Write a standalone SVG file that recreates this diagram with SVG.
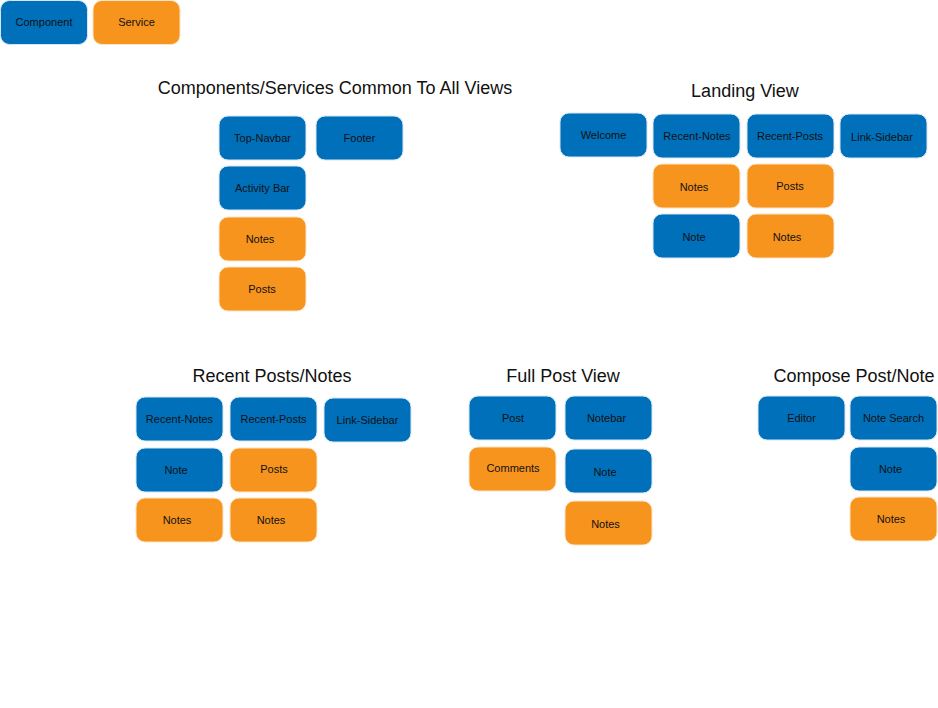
<svg xmlns="http://www.w3.org/2000/svg" width="938" height="708" viewBox="0 0 938 708">
<style>
.c{fill:#0070bb;stroke:#d7e6f3;stroke-width:1}
.s{fill:#f7941e;stroke:#fde3c4;stroke-width:1}
.l{font-family:"Liberation Sans",Arial,sans-serif;font-size:11px;fill:#111;text-anchor:middle}
.t{font-family:"Liberation Sans",Arial,sans-serif;font-size:18px;fill:#111;text-anchor:middle}
</style>
<rect width="938" height="708" fill="#fff"/>
<g id="legend">
<g id="legend-component"><rect class="c" x="0.5" y="0.5" width="87" height="44" rx="9"/><text class="l" x="44" y="26">Component</text></g>
<g id="legend-service"><rect class="s" x="93" y="0.5" width="87" height="44" rx="9"/><text class="l" x="136.5" y="26">Service</text></g>
</g>
<g id="titles">
<text class="t" x="335" y="94">Components/Services Common To All Views</text>
<text class="t" x="745" y="97">Landing View</text>
<text class="t" x="272" y="382">Recent Posts/Notes</text>
<text class="t" x="563" y="382">Full Post View</text>
<text class="t" x="854" y="382">Compose Post/Note</text>
</g>
<g id="common">
<g id="common-topnavbar"><rect class="c" x="219" y="116" width="87" height="44" rx="9"/><text class="l" x="262.5" y="142">Top-Navbar</text></g>
<g id="common-footer"><rect class="c" x="316" y="116" width="87" height="44" rx="9"/><text class="l" x="359.5" y="142">Footer</text></g>
<g id="common-activitybar"><rect class="c" x="219" y="166" width="87" height="44" rx="9"/><text class="l" x="262.5" y="192">Activity Bar</text></g>
<g id="common-notes"><rect class="s" x="219" y="217" width="87" height="44" rx="9"/><text class="l" x="260" y="243">Notes</text></g>
<g id="common-posts"><rect class="s" x="219" y="267" width="87" height="44" rx="9"/><text class="l" x="262" y="293">Posts</text></g>
</g>
<g id="landing">
<g id="landing-welcome"><rect class="c" x="560" y="113" width="87" height="44" rx="9"/><text class="l" x="603.5" y="139">Welcome</text></g>
<g id="landing-recentnotes"><rect class="c" x="653" y="114" width="87" height="44" rx="9"/><text class="l" x="697" y="140">Recent-Notes</text></g>
<g id="landing-recentposts"><rect class="c" x="747" y="114" width="87" height="44" rx="9"/><text class="l" x="790" y="140">Recent-Posts</text></g>
<g id="landing-linksidebar"><rect class="c" x="840" y="114" width="87" height="44" rx="9"/><text class="l" x="882" y="141">Link-Sidebar</text></g>
<g id="landing-notes"><rect class="s" x="653" y="164" width="87" height="44" rx="9"/><text class="l" x="694" y="191">Notes</text></g>
<g id="landing-posts"><rect class="s" x="747" y="164" width="87" height="44" rx="9"/><text class="l" x="790" y="190">Posts</text></g>
<g id="landing-note"><rect class="c" x="653" y="214" width="87" height="44" rx="9"/><text class="l" x="694" y="241">Note</text></g>
<g id="landing-notes2"><rect class="s" x="747" y="214" width="87" height="44" rx="9"/><text class="l" x="787" y="241">Notes</text></g>
</g>
<g id="recent">
<g id="recent-recentnotes"><rect class="c" x="136" y="397" width="87" height="44" rx="9"/><text class="l" x="179.5" y="423">Recent-Notes</text></g>
<g id="recent-recentposts"><rect class="c" x="230" y="397" width="87" height="44" rx="9"/><text class="l" x="273.5" y="423">Recent-Posts</text></g>
<g id="recent-linksidebar"><rect class="c" x="324" y="398" width="87" height="44" rx="9"/><text class="l" x="367.5" y="424">Link-Sidebar</text></g>
<g id="recent-note"><rect class="c" x="136" y="448" width="87" height="44" rx="9"/><text class="l" x="176" y="474">Note</text></g>
<g id="recent-posts"><rect class="s" x="230" y="448" width="87" height="44" rx="9"/><text class="l" x="274" y="473">Posts</text></g>
<g id="recent-notes"><rect class="s" x="136" y="498" width="87" height="44" rx="9"/><text class="l" x="177" y="524">Notes</text></g>
<g id="recent-notes2"><rect class="s" x="230" y="498" width="87" height="44" rx="9"/><text class="l" x="271" y="524">Notes</text></g>
</g>
<g id="fullpost">
<g id="fullpost-post"><rect class="c" x="469" y="396" width="87" height="44" rx="9"/><text class="l" x="513" y="422">Post</text></g>
<g id="fullpost-notebar"><rect class="c" x="565" y="396" width="87" height="44" rx="9"/><text class="l" x="606.5" y="422">Notebar</text></g>
<g id="fullpost-comments"><rect class="s" x="469" y="447" width="87" height="44" rx="9"/><text class="l" x="513" y="472">Comments</text></g>
<g id="fullpost-note"><rect class="c" x="565" y="449" width="87" height="44" rx="9"/><text class="l" x="605" y="476">Note</text></g>
<g id="fullpost-notes"><rect class="s" x="565" y="501" width="87" height="44" rx="9"/><text class="l" x="605.5" y="528">Notes</text></g>
</g>
<g id="compose">
<g id="compose-editor"><rect class="c" x="758" y="396" width="87" height="44" rx="9"/><text class="l" x="801.5" y="422">Editor</text></g>
<g id="compose-notesearch"><rect class="c" x="850" y="396" width="87" height="44" rx="9"/><text class="l" x="893.5" y="422">Note Search</text></g>
<g id="compose-note"><rect class="c" x="850" y="447" width="87" height="44" rx="9"/><text class="l" x="890.5" y="473">Note</text></g>
<g id="compose-notes"><rect class="s" x="850" y="497" width="87" height="44" rx="9"/><text class="l" x="891" y="523">Notes</text></g>
</g>
<g id="connectors"></g>
</svg>
